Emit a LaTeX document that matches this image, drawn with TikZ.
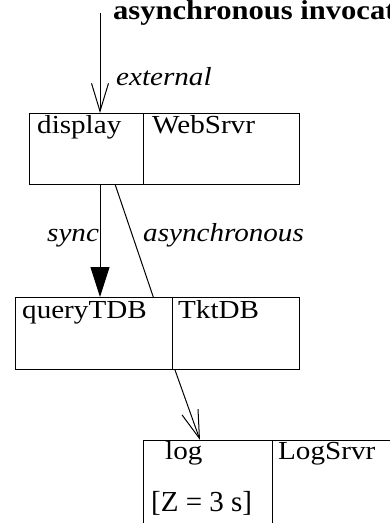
\documentclass[tikz,border=0pt]{standalone}
\usepackage{fontspec}
\setmainfont{Liberation Serif}[FakeStretch=1.12]
\newfontfamily\zfont{Liberation Serif}
\usetikzlibrary{arrows.meta}
\tikzset{
  x=1pt, y=1pt,
  cell/.style={draw, line width=1pt, anchor=north west, inner sep=0pt},
  lbl/.style={anchor=base west, inner sep=0pt, font=\fontsize{26}{30}\selectfont},
  ilbl/.style={lbl, font=\fontsize{26}{30}\selectfont\itshape},
  conn/.style={line width=1pt},
  openhead/.style={-{Straight Barb[length=28pt,width=17pt,line width=1pt]}},
  fillhead/.style={-{Triangle[length=30pt,width=19pt]}},
}
\begin{document}
\begin{tikzpicture}
\useasboundingbox (0,0) rectangle (390,-523);
\clip (0,0) rectangle (390,-523);
% boxes
\node[cell, minimum width=114pt, minimum height=71pt] (b1l) at (29,-113) {};
\node[cell, minimum width=156pt, minimum height=71pt] (b1r) at (143,-113) {};
\node[cell, minimum width=157pt, minimum height=72pt] (b2l) at (15,-297) {};
\node[cell, minimum width=127pt, minimum height=72pt] (b2r) at (172,-297) {};
\node[cell, minimum width=129pt, minimum height=100pt] (b3l) at (143,-440) {};
\node[cell, minimum width=150pt, minimum height=100pt] (b3r) at (272,-440) {};
% texts
\node[lbl, font=\fontsize{27.3}{31}\selectfont\bfseries] (title) at (113,-19.5) {asynchronous invocation};
\node[ilbl] (extl) at (116,-85) {external};
\node[lbl] (t1a) at (37,-133) {display};
\node[lbl] (t1b) at (152,-133) {WebSrvr};
\node[ilbl] (syncl) at (47,-241.5) {sync};
\node[ilbl] (asyncl) at (143,-241.5) {asynchronous};
\node[lbl] (t2a) at (22,-318) {queryTDB};
\node[lbl] (t2b) at (178,-318) {TktDB};
\node[lbl] (t3a) at (165,-459) {log};
\node[lbl] (t3b) at (278,-459) {LogSrvr};
\node[lbl, font=\fontsize{29}{33}\zfont] (t3c) at (151,-511.5) {[Z = 3 s]};
% connector end points
\coordinate (ext) at (100,-13);
\coordinate (a1) at ([xshift=-28.7pt]b1l.south east);
\coordinate (a2) at ([xshift=-19.7pt]b2l.north east);
\coordinate (c1) at ([xshift=3pt]b2r.south west);
\coordinate (c2) at ([xshift=57pt]b3l.north west);
% connectors
\draw[conn, openhead] (ext) -- (ext |- b1l.north);
\draw[conn, fillhead] (ext |- b1l.south) -- (ext |- b2l.north);
\draw[conn] (a1) -- (a2);
\draw[conn, openhead] (c1) -- (c2);
\end{tikzpicture}
\end{document}
